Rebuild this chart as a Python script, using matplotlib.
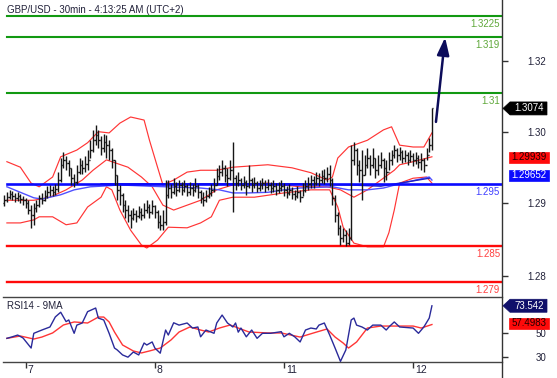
import numpy as np
import matplotlib
matplotlib.use('Agg')
import matplotlib.pyplot as plt
from matplotlib.patches import Polygon
from matplotlib.transforms import IdentityTransform
from matplotlib.lines import Line2D

plt.rcParams['font.family'] = ['Liberation Sans', 'DejaVu Sans']

# ---------------- data ----------------
title = "GBP/USD - 30min - 4:13:25 AM (UTC+2)"
day_labels = ['7', '8', '11', '12']
day_start_bar = [8, 56, 104, 152]

first_open = 1.2920
close = [1.2924, 1.2929, 1.2934, 1.2931, 1.2928, 1.2931, 1.2926, 1.2924, 1.2920, 1.2908,
         1.2900, 1.2911, 1.2916, 1.2928, 1.2924, 1.2931, 1.2937, 1.2941, 1.2937, 1.2942,
         1.2957, 1.2982, 1.2990, 1.2985, 1.2977, 1.2960, 1.2954, 1.2970, 1.2982, 1.2977,
         1.2983, 1.2990, 1.3006, 1.3022, 1.3031, 1.3022, 1.3009, 1.3019, 1.3014, 1.3006,
         1.2990, 1.2965, 1.2941, 1.2933, 1.2916, 1.2908, 1.2900, 1.2895, 1.2902, 1.2898,
         1.2905, 1.2900, 1.2908, 1.2913, 1.2905, 1.2915, 1.2905, 1.2889, 1.2884, 1.2889,
         1.2933, 1.2944, 1.2937, 1.2947, 1.2941, 1.2949, 1.2941, 1.2947, 1.2937, 1.2944,
         1.2941, 1.2947, 1.2937, 1.2928, 1.2924, 1.2931, 1.2936, 1.2941, 1.2949, 1.2964,
         1.2970, 1.2977, 1.2965, 1.2960, 1.2973, 1.2960, 1.2952, 1.2957, 1.2949, 1.2954,
         1.2947, 1.2957, 1.2949, 1.2952, 1.2944, 1.2949, 1.2952, 1.2946, 1.2949, 1.2944,
         1.2947, 1.2941, 1.2944, 1.2947, 1.2941, 1.2936, 1.2941, 1.2934, 1.2931, 1.2937,
         1.2929, 1.2941, 1.2947, 1.2951, 1.2957, 1.2952, 1.2960, 1.2957, 1.2964, 1.2960,
         1.2967, 1.2957, 1.2928, 1.2900, 1.2879, 1.2862, 1.2867, 1.2854, 1.2862, 1.2990,
         1.3006, 1.2982, 1.2973, 1.2965, 1.2982, 1.2993, 1.2982, 1.2993, 1.2973, 1.2982,
         1.2990, 1.2977, 1.2970, 1.2990, 1.2998, 1.3006, 1.2998, 1.3003, 1.2993, 1.2998,
         1.2990, 1.2996, 1.2990, 1.2993, 1.2987, 1.2990, 1.2982, 1.2998, 1.3014, 1.3074]
high = [1.2933, 1.2937, 1.2941, 1.2939, 1.2936, 1.2937, 1.2934, 1.2931, 1.2928, 1.2924,
        1.2916, 1.2920, 1.2924, 1.2933, 1.2936, 1.2941, 1.2947, 1.2949, 1.2947, 1.2951,
        1.2970, 1.2993, 1.3003, 1.2996, 1.2990, 1.2977, 1.2967, 1.2982, 1.2993, 1.2990,
        1.2996, 1.3006, 1.3022, 1.3039, 1.3047, 1.3039, 1.3029, 1.3032, 1.3031, 1.3022,
        1.3009, 1.2990, 1.2965, 1.2949, 1.2936, 1.2924, 1.2916, 1.2908, 1.2911, 1.2908,
        1.2915, 1.2911, 1.2920, 1.2924, 1.2918, 1.2924, 1.2916, 1.2908, 1.2900, 1.2908,
        1.2957, 1.2957, 1.2951, 1.2960, 1.2954, 1.2957, 1.2954, 1.2957, 1.2951, 1.2954,
        1.2951, 1.2960, 1.2951, 1.2941, 1.2937, 1.2941, 1.2946, 1.2951, 1.2960, 1.2977,
        1.2982, 1.2990, 1.2982, 1.2977, 1.2990, 1.3019, 1.2965, 1.2970, 1.2960, 1.2964,
        1.2957, 1.2982, 1.2960, 1.2962, 1.2955, 1.2957, 1.2960, 1.2957, 1.2959, 1.2954,
        1.2957, 1.2952, 1.2954, 1.2957, 1.2952, 1.2947, 1.2951, 1.2946, 1.2941, 1.2947,
        1.2941, 1.2952, 1.2957, 1.2962, 1.2965, 1.2964, 1.2970, 1.2969, 1.2973, 1.2975,
        1.2978, 1.2982, 1.2960, 1.2933, 1.2905, 1.2884, 1.2879, 1.2875, 1.2879, 1.3014,
        1.3019, 1.3009, 1.2990, 1.3006, 1.2998, 1.3009, 1.2998, 1.3009, 1.2993, 1.2998,
        1.3003, 1.2993, 1.2990, 1.3003, 1.3006, 1.3014, 1.3009, 1.3011, 1.3006, 1.3006,
        1.3003, 1.3006, 1.3001, 1.3003, 1.2998, 1.3001, 1.2993, 1.3009, 1.3026, 1.3074]
low = [1.2915, 1.2921, 1.2926, 1.2924, 1.2921, 1.2923, 1.2920, 1.2916, 1.2911, 1.2902,
       1.2879, 1.2884, 1.2905, 1.2913, 1.2918, 1.2923, 1.2928, 1.2931, 1.2931, 1.2933,
       1.2937, 1.2954, 1.2977, 1.2973, 1.2964, 1.2949, 1.2946, 1.2951, 1.2967, 1.2967,
       1.2970, 1.2973, 1.2993, 1.3003, 1.3014, 1.3009, 1.2998, 1.3003, 1.2993, 1.2990,
       1.2977, 1.2949, 1.2924, 1.2916, 1.2905, 1.2895, 1.2889, 1.2879, 1.2892, 1.2889,
       1.2895, 1.2892, 1.2895, 1.2903, 1.2895, 1.2902, 1.2895, 1.2879, 1.2875, 1.2875,
       1.2884, 1.2928, 1.2928, 1.2934, 1.2931, 1.2937, 1.2933, 1.2937, 1.2931, 1.2933,
       1.2931, 1.2937, 1.2928, 1.2920, 1.2915, 1.2921, 1.2928, 1.2931, 1.2937, 1.2949,
       1.2957, 1.2964, 1.2954, 1.2947, 1.2957, 1.2905, 1.2941, 1.2947, 1.2941, 1.2944,
       1.2933, 1.2944, 1.2937, 1.2944, 1.2937, 1.2939, 1.2942, 1.2937, 1.2941, 1.2936,
       1.2937, 1.2933, 1.2936, 1.2939, 1.2931, 1.2928, 1.2933, 1.2926, 1.2924, 1.2928,
       1.2921, 1.2931, 1.2937, 1.2941, 1.2944, 1.2944, 1.2949, 1.2947, 1.2952, 1.2951,
       1.2954, 1.2947, 1.2916, 1.2889, 1.2867, 1.2851, 1.2856, 1.2849, 1.2851, 1.2859,
       1.2982, 1.2965, 1.2954, 1.2924, 1.2965, 1.2977, 1.2965, 1.2977, 1.2960, 1.2965,
       1.2977, 1.2954, 1.2957, 1.2973, 1.2982, 1.2993, 1.2987, 1.2990, 1.2985, 1.2987,
       1.2982, 1.2987, 1.2980, 1.2983, 1.2977, 1.2973, 1.2970, 1.2990, 1.3003, 1.3006]

# Bollinger bands (read at sample bars)
bb_upper_bar = [1, 6, 10, 13, 18, 21, 27, 31, 35, 39, 43, 47, 52, 54, 57, 59, 63, 68, 73, 79,
                85, 98, 107, 114, 120, 122, 124, 128, 135, 141, 144, 147, 152, 156, 159]
bb_upper = [1.2987, 1.2978, 1.2952, 1.2946, 1.2962, 1.2995, 1.3006, 1.3018, 1.3036, 1.3034,
            1.3050, 1.3060, 1.3055, 1.3022, 1.2978, 1.2949, 1.2957, 1.2970, 1.2973, 1.2973,
            1.2978, 1.2982, 1.2977, 1.2969, 1.2957, 1.2962, 1.2993, 1.3011, 1.3022, 1.3039,
            1.3044, 1.3014, 1.3011, 1.3011, 1.3034]
bb_mid_bar = [1, 6, 11, 17, 23, 29, 33, 38, 40, 46, 51, 55, 59, 63, 68, 73, 79, 85, 98, 110,
              120, 125, 130, 135, 140, 145, 147, 152, 159]
bb_mid = [1.2924, 1.2924, 1.2924, 1.2929, 1.2941, 1.2957, 1.2973, 1.2990, 1.2987, 1.2978,
          1.2962, 1.2946, 1.2916, 1.2908, 1.2916, 1.2924, 1.2941, 1.2949, 1.2952, 1.2946,
          1.2946, 1.2941, 1.2929, 1.2941, 1.2957, 1.2973, 1.2982, 1.2987, 1.2995]
bb_lower_bar = [1, 6, 11, 13, 18, 23, 27, 31, 36, 38, 40, 43, 47, 51, 53, 57, 61, 68, 73, 77,
                80, 85, 93, 104, 114, 121, 124, 126, 130, 135, 141, 143, 145, 147, 152, 157, 159]
bb_lower = [1.2887, 1.2887, 1.2892, 1.2897, 1.2897, 1.2884, 1.2887, 1.2913, 1.2929, 1.2946,
            1.2941, 1.2908, 1.2875, 1.2851, 1.2846, 1.2859, 1.2880, 1.2879, 1.2887, 1.2897,
            1.2924, 1.2929, 1.2929, 1.2936, 1.2941, 1.2941, 1.2913, 1.2880, 1.2854, 1.2848,
            1.2848, 1.2871, 1.2908, 1.2952, 1.2960, 1.2962, 1.2952]

# moving averages (blue)
ma_fast_bar = [1, 6, 11, 14, 21, 26, 32, 36, 43, 54, 73, 80, 85, 91, 98, 104, 110, 122, 128,
               135, 141, 147, 158, 159]
ma_fast = [1.2946, 1.2937, 1.2928, 1.2926, 1.2933, 1.2941, 1.2946, 1.2947, 1.2949, 1.2947,
           1.2944, 1.2941, 1.2936, 1.2936, 1.2937, 1.2941, 1.2944, 1.2946, 1.2941, 1.2941,
           1.2944, 1.2951, 1.2962, 1.2957]
ma_slow_bar = [36, 73, 110, 128, 140, 147, 158]
ma_slow = [1.2951, 1.2951, 1.2951, 1.2949, 1.2947, 1.2952, 1.2960]

# support / resistance levels
level_values = [1.3225, 1.319, 1.31, 1.295, 1.285, 1.279]
level_labels = ['1.3225', '1.319', '1.31', '1.295', '1.285', '1.279']
level_kind = ['res', 'res', 'res', 'pivot', 'sup', 'sup']

# forecast arrow (bar, price)
arrow_bars = [160.5, 163.9]
arrow_prices = [1.3052, 1.3190]

# price axis tick labels as printed on the chart
price_tick_pos = [1.31515, 1.30350, 1.29200, 1.27997]
price_tick_labels = ['1.32', '1.30', '1.29', '1.28']

last_price = 1.3074
bb_value = 1.29939
ma_value = 1.29652

# RSI
rsi_bar = [1, 3, 5, 7, 10, 11, 14, 17, 19, 21, 23, 24, 26, 27, 29, 31, 34, 35, 37, 39,
           41, 42, 44, 46, 48, 50, 52, 53, 55, 56, 58, 60, 61, 63, 65, 68, 70, 72, 73, 75,
           78, 79, 81, 83, 85, 86, 87, 88, 90, 92, 94, 96, 99, 103, 104, 106, 108, 110, 112, 114,
           116, 117, 119, 121, 123, 125, 127, 129, 130, 131, 133, 135, 137, 140, 142, 143, 145, 147, 152, 154,
           156, 158, 159]
rsi = [45.7, 47, 48.5, 46, 37.4, 50, 52.8, 55.4, 64, 68, 60, 61.4, 50, 57, 58.8, 68.5, 71.6, 63, 61.4, 50,
       37.4, 35.8, 31.5, 29.6, 34, 31.5, 41.7, 40, 42.6, 37.4, 33, 52.8, 48.5, 59, 57, 58.8, 54.5, 55.4, 47, 52.8,
       50, 58.8, 65.6, 58.8, 55.4, 58.8, 51, 54.5, 47, 52.8, 45.7, 50, 50, 51.4, 47, 50, 47, 42.6, 52.8, 54.5,
       53.7, 57, 58.8, 48.5, 37.4, 26, 35.8, 61.4, 63, 57, 55.4, 52.8, 57, 57, 52.8, 55.4, 59.7, 55.4, 54.5, 50,
       55.4, 63, 73.5]
rsi_ma_bar = [1, 6, 11, 14, 18, 22, 26, 31, 35, 37, 39, 41, 44, 48, 51, 54, 58, 62, 65, 69,
              73, 76, 80, 84, 91, 98, 103, 110, 115, 120, 123, 126, 128, 131, 135, 140, 146, 152, 155, 159]
rsi_ma = [45.7, 47.7, 45.1, 46.8, 50.3, 57.1, 59.7, 58.8, 63.9, 63.9, 59.7, 51.1, 40, 34.9, 33.2, 34.9,
          37.4, 44.3, 51.1, 55.4, 52.8, 51.1, 54.5, 57.1, 51.1, 50.3, 50.3, 46.8, 50.3, 53.7, 46.8, 41.7,
          37.4, 42.6, 54.5, 56.2, 56.2, 56.2, 54.5, 57.5]
rsi_last = 73.542
rsi_ma_last = 57.4983
rsi_ticks = [50, 30]

# ---------------- figure ----------------
W, H = 557, 378
fig = plt.figure(figsize=(W / 100, H / 100), dpi=100)
L, R = 3, 502
ax = fig.add_axes([L / W, (H - 297) / H, (R - L) / W, 297 / H])
rx = fig.add_axes([L / W, 16 / H, (R - L) / W, 65 / H])

XMIN, XMAX = -0.45, 185.05
for a in (ax, rx):
    a.set_xlim(XMIN, XMAX)
    a.set_facecolor('white')
ax.set_ylim(1.27660, 1.32511)
rx.set_ylim(25.47, 81.03)

txt = '#22223a'
lev_line = {'res': '#129912', 'pivot': '#0a0aff', 'sup': '#ff0a0a'}
lev_text = {'res': '#5fa83a', 'pivot': '#4040ff', 'sup': '#ff4040'}
lev_lw = {'res': 1.5, 'pivot': 1.9, 'sup': 1.7}

# levels
for v, lab, k in zip(level_values, level_labels, level_kind):
    ax.axhline(v, xmin=0.008, xmax=1, color=lev_line[k], lw=lev_lw[k], zorder=4)
    ax.annotate(lab, xy=(1, v), xycoords=('axes fraction', 'data'),
                xytext=(-2, -8), textcoords='offset pixels', ha='right', va='center',
                fontsize=7, color=lev_text[k], zorder=6)

# bands & MAs
ax.plot(bb_upper_bar, bb_upper, color='#ff3535', lw=0.85, zorder=3)
ax.plot(bb_mid_bar, bb_mid, color='#ff3535', lw=0.85, zorder=3)
ax.plot(bb_lower_bar, bb_lower, color='#ff3535', lw=0.85, zorder=3)
ax.plot(ma_fast_bar, ma_fast, color='#5050ff', lw=1.0, zorder=3)
ax.plot(ma_slow_bar, ma_slow, color='#2020c0', lw=1.0, zorder=3)

# OHLC bars
x = np.arange(len(close))
c = np.array(close)
opens = np.r_[first_open, c[:-1]]
ax.vlines(x, low, high, color='#151515', lw=1.0, zorder=5)
ax.hlines(opens, x - 0.5, x, color='#151515', lw=1.0, zorder=5)
ax.hlines(c, x, x + 0.5, color='#151515', lw=1.0, zorder=5)

# forecast arrow
ax.annotate('', xy=(arrow_bars[1], arrow_prices[1]), xytext=(arrow_bars[0], arrow_prices[0]),
            arrowprops=dict(arrowstyle='-|>,head_length=0.75,head_width=0.26',
                            color='#0c0c5a', lw=1.8, mutation_scale=14, shrinkA=0, shrinkB=0),
            zorder=7)

# price axis
for s in ax.spines.values():
    s.set_visible(False)
ax.set_xticks([])
ax.yaxis.tick_right()
ax.set_yticks(price_tick_pos, price_tick_labels)
ax.tick_params(axis='y', length=4, width=1, color='#333333', pad=14.5,
               labelsize=7, labelcolor=txt, direction='out')

# RSI panel
rx.plot(rsi_ma_bar, rsi_ma, color='#ff3535', lw=1.0, zorder=3)
rx.plot(rsi_bar, rsi, color='#2a2a9a', lw=1.0, zorder=4)
for k in ('left', 'right'):
    rx.spines[k].set_visible(False)
for k in ('top', 'bottom'):
    rx.spines[k].set_color('#444444')
    rx.spines[k].set_linewidth(1.0)
rx.yaxis.tick_right()
rx.set_yticks(rsi_ticks, [str(t) for t in rsi_ticks])
rx.tick_params(axis='y', length=4, width=1, color='#333333', pad=20,
               labelsize=7, labelcolor=txt, direction='out')
rx.set_xticks(day_start_bar, [''] * len(day_start_bar))
rx.tick_params(axis='x', length=4, width=1, color='#333333', direction='out')
for b, lab in zip(day_start_bar, day_labels):
    rx.annotate(lab, xy=(b, 0), xycoords=('data', 'axes fraction'),
                xytext=(2, -8), textcoords='offset pixels', ha='left', va='center',
                fontsize=7.5, color=txt)

fig.text(7 / W, 1 - 10 / H, title, ha='left', va='center', fontsize=7, color=txt)
fig.text(7 / W, 1 - 306 / H, 'RSI14 - 9MA', ha='left', va='center', fontsize=7, color=txt)

# right border line
fig.add_artist(Line2D([R / W, R / W], [0, 1], transform=fig.transFigure,
                      color='#333333', lw=1.0))


def marker(axis, value, label, face, tcolor, pointer, dy=0.0):
    y = axis.transData.transform((0, value))[1] + dy
    if pointer:
        h = 6.5
        verts = [(503, y), (510, y + h), (547, y + h), (547, y - h), (510, y - h)]
    else:
        h = 5.5
        verts = [(509, y + h), (549, y + h), (549, y - h), (509, y - h)]
    fig.add_artist(Polygon(verts, closed=True, transform=IdentityTransform(),
                           facecolor=face, edgecolor=face, lw=0.5, zorder=10))
    fig.text(529, y, label, transform=IdentityTransform(), ha='center', va='center',
             fontsize=7, color=tcolor, zorder=11)


marker(ax, last_price, '1.3074', '#000000', 'white', True)
marker(ax, bb_value, '1.29939', '#ff0a0a', '#220000', False)
marker(ax, ma_value, '1.29652', '#0a0aff', 'white', False)
marker(rx, rsi_last, '73.542', '#10106a', 'white', True)
marker(rx, rsi_ma_last, '57.4983', '#ff0a0a', '#220000', False, dy=1.5)

fig.savefig('out.png', dpi=100)
